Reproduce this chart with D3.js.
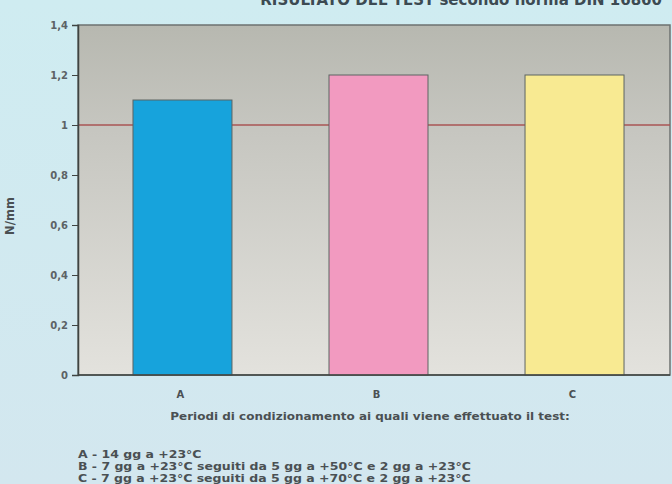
<!DOCTYPE html>
<html>
<head>
<meta charset="utf-8">
<script src="https://cdn.jsdelivr.net/npm/d3@7/dist/d3.min.js"></script>
<style>
  html, body { margin: 0; padding: 0; background: #d3e8ef; }
  svg { display: block; font-family: "DejaVu Sans", "Liberation Sans", Arial, sans-serif; }
</style>
</head>
<body>
<svg id="chart" width="672" height="484"></svg>
<script>
// Peel strength per conditioning period
const categories = ["A", "B", "C"];
const values = [1.1, 1.2, 1.2];
const barColors = ["#17a3dc", "#f29ac0", "#f8ea92"];
const yTicks = [0, 0.2, 0.4, 0.6, 0.8, 1, 1.2, 1.4];
const threshold = 1;
const legendLines = [
  "A - 14 gg a +23°C",
  "B - 7 gg a +23°C seguiti da 5 gg a +50°C e 2 gg a +23°C",
  "C - 7 gg a +23°C seguiti da 5 gg a +70°C e 2 gg a +23°C"
];
const titleText = "RISULTATO DEL TEST secondo norma DIN 16860";
const xTitle = "Periodi di condizionamento ai quali viene effettuato il test:";
const yTitle = "N/mm";

const svg = d3.select("#chart");
const W = 672, H = 484;
const plot = { left: 78, right: 670, top: 25, bottom: 375 };
const ink = "#4a5053";

// background
const defs = svg.append("defs");
const bg = defs.append("linearGradient").attr("id", "bg").attr("x1", 0).attr("y1", 0).attr("x2", 0).attr("y2", 1);
bg.append("stop").attr("offset", "0%").attr("stop-color", "#cfecf1");
bg.append("stop").attr("offset", "100%").attr("stop-color", "#d3e7ef");
svg.append("rect").attr("width", W).attr("height", H).attr("fill", "url(#bg)");

const pg = defs.append("linearGradient").attr("id", "plotbg").attr("x1", 0).attr("y1", 0).attr("x2", 0).attr("y2", 1);
pg.append("stop").attr("offset", "0%").attr("stop-color", "#b7b8b0");
pg.append("stop").attr("offset", "30%").attr("stop-color", "#c6c6c0");
pg.append("stop").attr("offset", "100%").attr("stop-color", "#e3e2dd");

// heading, running off the top edge
svg.append("text")
  .attr("x", 662).attr("y", 5)
  .attr("text-anchor", "end")
  .attr("font-size", 15).attr("font-weight", "bold")
  .attr("fill", "#3c4a52")
  .text(titleText);

const y = d3.scaleLinear().domain([0, 1.4]).range([plot.bottom, plot.top]);
const x = d3.scaleBand().domain(categories).range([83, 674]).paddingInner(0.495).paddingOuter(0.255);

svg.append("rect")
  .attr("x", plot.left).attr("y", plot.top)
  .attr("width", plot.right - plot.left).attr("height", plot.bottom - plot.top)
  .attr("fill", "url(#plotbg)")
  .attr("stroke", "#6e7270").attr("stroke-width", 1.5);

// threshold line
svg.append("line")
  .attr("x1", plot.left).attr("x2", plot.right)
  .attr("y1", y(threshold)).attr("y2", y(threshold))
  .attr("stroke", "#a85454").attr("stroke-width", 1.3);

// bars
svg.selectAll("rect.bar").data(values).join("rect")
  .attr("class", "bar")
  .attr("x", (d, i) => x(categories[i]))
  .attr("y", d => y(d))
  .attr("width", x.bandwidth())
  .attr("height", d => y(0) - y(d))
  .attr("fill", (d, i) => barColors[i])
  .attr("stroke", "#5d6462").attr("stroke-width", 1);

// y axis
const yAxis = d3.axisLeft(y).tickValues(yTicks).tickSize(6).tickPadding(4)
  .tickFormat(d => String(d).replace(".", ","));
const ga = svg.append("g").attr("transform", `translate(${plot.left},0)`).call(yAxis);
ga.select(".domain").attr("stroke", "#3f4442").attr("stroke-width", 1.5);
ga.selectAll(".tick line").attr("stroke", "#3f4442");
ga.selectAll(".tick text").attr("font-size", 10).attr("font-weight", "bold").attr("fill", "#5c6265")
  .attr("font-family", "DejaVu Sans, sans-serif");

// x baseline and category labels
svg.append("line")
  .attr("x1", plot.left).attr("x2", plot.right)
  .attr("y1", plot.bottom).attr("y2", plot.bottom)
  .attr("stroke", "#3f4442").attr("stroke-width", 1.5);
svg.selectAll("text.cat").data(categories).join("text")
  .attr("class", "cat")
  .attr("x", d => x(d) + x.bandwidth() / 2 - 2)
  .attr("y", 398)
  .attr("text-anchor", "middle")
  .attr("font-size", 10).attr("font-weight", "bold").attr("fill", ink)
  .text(d => d);

// axis titles
svg.append("text")
  .attr("transform", "translate(14,216) rotate(-90)")
  .attr("text-anchor", "middle")
  .attr("font-size", 11.5).attr("font-weight", "bold").attr("fill", ink)
  .text(yTitle);
svg.append("text")
  .attr("transform", "translate(370,420) scale(1.09,1)")
  .attr("text-anchor", "middle")
  .attr("font-size", 11).attr("font-weight", "bold").attr("fill", ink)
  .text(xTitle);

// legend (slightly widened lettering)
svg.selectAll("text.leg").data(legendLines).join("text")
  .attr("class", "leg")
  .attr("transform", (d, i) => `translate(78,${458 + i * 12}) scale(1.19,1)`)
  .attr("font-size", 10.5).attr("font-weight", "bold").attr("fill", ink)
  .text(d => d);
</script>
</body>
</html>
